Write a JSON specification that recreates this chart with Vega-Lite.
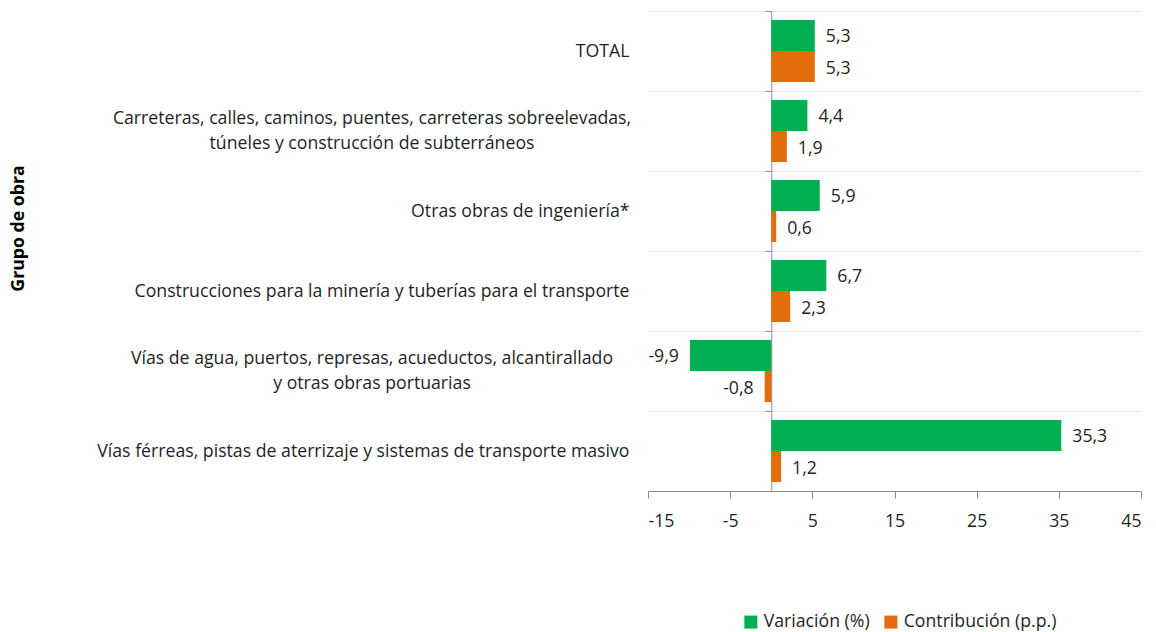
{
  "$schema": "https://vega.github.io/schema/vega-lite/v6.json",
  "width": 493,
  "height": 480,
  "autosize": {"type": "none"},
  "padding": {"left": 648, "top": 11, "right": 15, "bottom": 141},
  "background": "white",
  "config": {
    "locale": {"number": {"decimal": ",", "thousands": ".", "grouping": [3], "currency": ["", ""], "minus": "-"}},
    "font": "Open Sans",
    "view": {"stroke": null}
  },
  "data": {
    "values": [
      {"grupo": "TOTAL", "serie": "Variación (%)", "valor": 5.3},
      {"grupo": "TOTAL", "serie": "Contribución (p.p.)", "valor": 5.3},
      {"grupo": "Carreteras, calles, caminos, puentes, carreteras sobreelevadas,\ntúneles y construcción de subterráneos", "serie": "Variación (%)", "valor": 4.4},
      {"grupo": "Carreteras, calles, caminos, puentes, carreteras sobreelevadas,\ntúneles y construcción de subterráneos", "serie": "Contribución (p.p.)", "valor": 1.9},
      {"grupo": "Otras obras de ingeniería*", "serie": "Variación (%)", "valor": 5.9},
      {"grupo": "Otras obras de ingeniería*", "serie": "Contribución (p.p.)", "valor": 0.6},
      {"grupo": "Construcciones para la minería y tuberías para el transporte", "serie": "Variación (%)", "valor": 6.7},
      {"grupo": "Construcciones para la minería y tuberías para el transporte", "serie": "Contribución (p.p.)", "valor": 2.3},
      {"grupo": "Vías de agua, puertos, represas, acueductos, alcantirallado\ny otras obras portuarias", "serie": "Variación (%)", "valor": -9.9},
      {"grupo": "Vías de agua, puertos, represas, acueductos, alcantirallado\ny otras obras portuarias", "serie": "Contribución (p.p.)", "valor": -0.8},
      {"grupo": "Vías férreas, pistas de aterrizaje y sistemas de transporte masivo", "serie": "Variación (%)", "valor": 35.3},
      {"grupo": "Vías férreas, pistas de aterrizaje y sistemas de transporte masivo", "serie": "Contribución (p.p.)", "valor": 1.2}
    ]
  },
  "encoding": {
    "y": {
      "field": "grupo", "type": "nominal", "sort": null,
      "scale": {"paddingInner": 0, "paddingOuter": 0},
      "axis": null
    },
    "x": {
      "field": "valor", "type": "quantitative",
      "scale": {"domain": [-15, 45], "nice": false, "zero": false},
      "axis": {
        "values": [-15, -5, 5, 15, 25, 35, 45],
        "title": null, "grid": false,
        "domainColor": "#8c8c8c", "tickColor": "#8c8c8c", "tickSize": 7,
        "labelFontSize": 17.7, "labelColor": "#1f1f1f", "labelPadding": 14,
        "labelFont": "Open Sans"
      }
    }
  },
  "layer": [
    {
      "mark": {"type": "bar"},
      "encoding": {
        "y": {
          "field": "grupo", "type": "nominal", "sort": null,
          "axis": {
            "title": "Grupo de obra",
            "titleFontWeight": "bold", "titleFontSize": 17.7, "titleColor": "#000000",
            "titleX": -630, "titleY": 217, "titleAngle": -90, "titleBaseline": "middle", "titleAlign": "center",
            "labelExpr": "indexof(datum.label, '\\n') >= 0 ? '' : datum.label",
            "labelFontSize": 17.7, "labelColor": "#1f1f1f", "labelLimit": 700,
            "labelPadding": 19,
            "domain": false, "ticks": false,
            "grid": true, "tickBand": "extent", "gridColor": "#e8e8e8", "gridWidth": 1
          }
        },
        "yOffset": {
          "field": "serie", "type": "nominal", "sort": ["Variación (%)", "Contribución (p.p.)"],
          "scale": {"paddingInner": 0, "paddingOuter": 0.29}
        },
        "color": {
          "field": "serie", "type": "nominal",
          "sort": ["Variación (%)", "Contribución (p.p.)"],
          "scale": {"domain": ["Variación (%)", "Contribución (p.p.)"], "range": ["#00b050", "#e46c0a"]},
          "legend": {
            "title": null, "orient": "none", "direction": "horizontal",
            "legendX": 94, "legendY": 602,
            "symbolType": "square", "symbolSize": 169, "symbolStrokeWidth": 0,
            "labelFontSize": 17.7, "labelColor": "#1f1f1f", "labelOffset": 4,
            "columnPadding": 12
          }
        }
      }
    },
    {
      "transform": [{"filter": "datum.valor >= 0"}],
      "mark": {"type": "text", "align": "left", "baseline": "middle", "dx": 11, "dy": 2, "fontSize": 17.7, "color": "#1f1f1f"},
      "encoding": {
        "text": {"field": "valor", "type": "quantitative", "format": ".1f"},
        "yOffset": {
          "field": "serie", "type": "nominal", "sort": ["Variación (%)", "Contribución (p.p.)"],
          "scale": {"paddingInner": 0, "paddingOuter": 0.29}
        },
        "y": {
          "field": "grupo", "type": "nominal", "sort": null,
          "axis": {
            "orient": "left", "offset": -123.25,
            "labels": false, "title": null, "grid": false,
            "domain": true, "domainColor": "#8c8c8c",
            "ticks": true, "tickBand": "extent", "tickSize": 6, "tickColor": "#8c8c8c"
          }
        }
      }
    },
    {
      "transform": [{"filter": "datum.valor < 0"}],
      "mark": {"type": "text", "align": "right", "baseline": "middle", "dx": -11, "dy": 2, "fontSize": 17.7, "color": "#1f1f1f"},
      "encoding": {
        "text": {"field": "valor", "type": "quantitative", "format": ".1f"},
        "yOffset": {
          "field": "serie", "type": "nominal", "sort": ["Variación (%)", "Contribución (p.p.)"],
          "scale": {"paddingInner": 0, "paddingOuter": 0.29}
        }
      }
    },
    {
      "transform": [{"filter": "datum.serie === 'Variación (%)' && indexof(datum.grupo, '\\n') >= 0"}],
      "mark": {"type": "text", "align": "center", "baseline": "middle", "lineBreak": "\n", "lineHeight": 25, "dx": -276, "dy": -12.5, "fontSize": 17.7, "color": "#1f1f1f"},
      "encoding": {
        "text": {"field": "grupo", "type": "nominal"},
        "x": {"datum": -15}
      }
    }
  ],
  "resolve": {"axis": {"y": "independent"}}
}
